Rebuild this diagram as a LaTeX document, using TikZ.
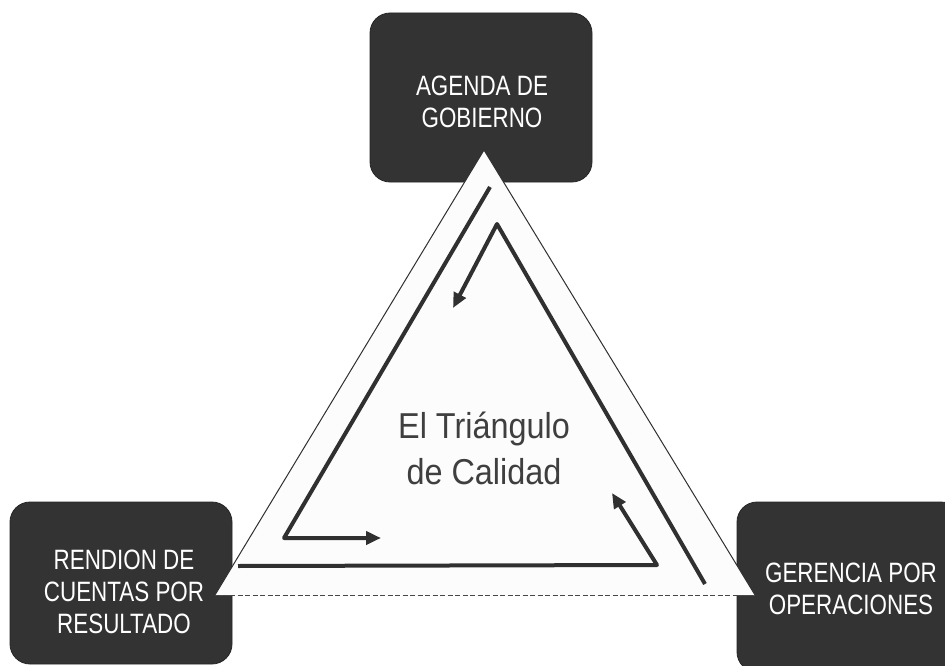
\documentclass[tikz,border=0pt]{standalone}
\usepackage{fontspec}
\setmainfont{Liberation Sans}
\newfontfamily\boxfont[FakeStretch=0.8]{Liberation Sans}
\newfontfamily\midfont[FakeStretch=0.9]{Liberation Sans}
\usetikzlibrary{arrows.meta}
\definecolor{boxgray}{HTML}{333333}
\definecolor{linegray}{HTML}{303030}
\definecolor{txtgray}{HTML}{3F3F3F}
\definecolor{trifill}{HTML}{FCFCFC}
\begin{document}
\begin{tikzpicture}[x=1pt,y=-1pt,
  darkbox/.style={rectangle, rounded corners=20pt, fill=boxgray, draw=black!85, line width=0.8pt, inner sep=0pt},
  boxtext/.style={text=white, align=center, font=\boxfont\fontsize{28}{32}\selectfont, inner sep=0pt},
  flow/.style={draw=linegray, line width=4pt, line join=round},
  flowarrow/.style={flow, -{Triangle[length=15pt,width=13pt]}}
]
\useasboundingbox (0,0) rectangle (945,666);
\clip (0,0) rectangle (945,666);
\fill[white] (0,0) rectangle (945,666);
% boxes
\node[darkbox, minimum width=222pt, minimum height=169pt] (agenda) at (481,97.5) {};
\node[darkbox, minimum width=222pt, minimum height=162pt] (rendicion) at (121,583) {};
\node[darkbox, minimum width=224pt, minimum height=170pt] (gerencia) at (849,587) {};
\node[boxtext] (agendatxt) at (482,102) {AGENDA DE\\GOBIERNO};
\node[boxtext] (rendiciontxt) at (124,592) {RENDION DE\\CUENTAS POR\\RESULTADO};
\node[boxtext] (gerenciatxt) at (851,589) {GERENCIA POR\\OPERACIONES};
% triangle
\coordinate (T) at (484,150);
\coordinate (L) at (215,595);
\coordinate (R) at (755,595);
\fill[trifill] (L) -- (T) -- (R) -- cycle;
\draw[linegray, line width=1pt] (L) -- (T) -- (R);
\draw[black!72, line width=1pt, dash pattern=on 5pt off 2.5pt] (L) -- (R);
% flow paths
\coordinate (a1) at (490,187);
\coordinate (a2) at (284,538);
\coordinate (a3) at (381,538);
\coordinate (b1) at (705,584);
\coordinate (b2) at (497,224);
\coordinate (b3) at (453,308);
\coordinate (c1) at (238,566);
\coordinate (c2) at (657,565);
\coordinate (c3) at (612,493);
\draw[flowarrow] (a1) -- (a2) -- (a3);
\draw[flowarrow] (b1) -- (b2) -- (b3);
\draw[flowarrow] (c1) -- (c2) -- (c3);
% title
\node[text=txtgray, align=center, font=\midfont\fontsize{36}{46}\selectfont, inner sep=0pt] (title) at (484,448) {El Triángulo\\de Calidad};
\end{tikzpicture}
\end{document}
